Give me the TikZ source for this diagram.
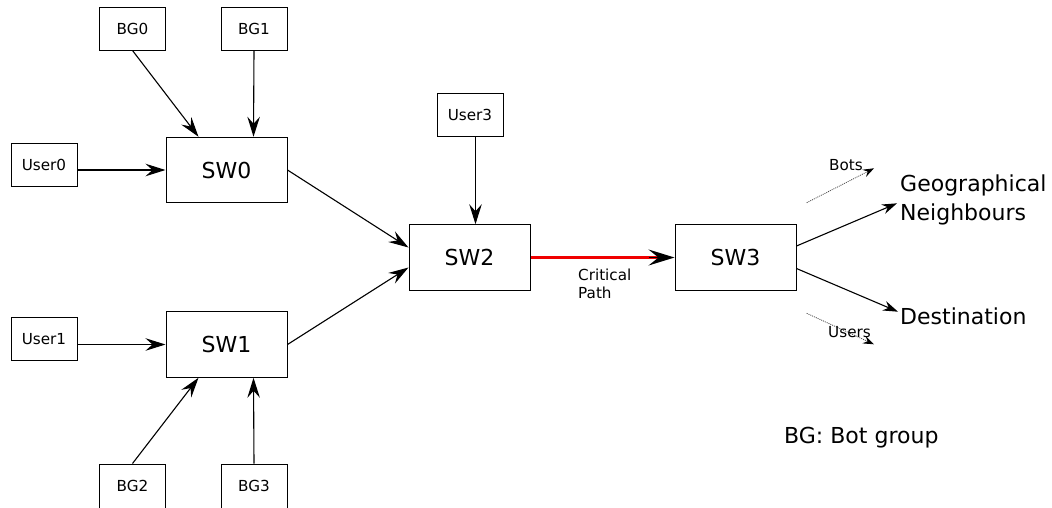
\documentclass[tikz,border=0pt]{standalone}
\usepackage{fontspec}
\setmainfont{DejaVu Sans}
\usetikzlibrary{arrows.meta}
\definecolor{critred}{RGB}{240,0,0}

\tikzset{
  smallbox/.style={draw, line width=1pt, minimum width=66pt, minimum height=43pt,
    inner sep=0pt, font=\fontsize{15.2}{17.5}\selectfont},
  switchbox/.style={draw, line width=1pt, minimum width=121pt, minimum height=65.5pt,
    inner sep=0pt, font=\fontsize{22}{29}\selectfont},
  bigarrow/.style={line width=1.1pt, -{Stealth[length=20pt, width=12.5pt, inset=7pt]}},
  outarrow/.style={line width=1.1pt, -{Stealth[length=15pt, width=10pt, inset=5pt]}},
  flowarrow/.style={line width=0.8pt, dash pattern=on 1pt off 1pt, black!70,
    -{Stealth[length=11pt, width=8pt, inset=4pt, color=black]}},
  critline/.style={line width=2.2pt, draw=critred},
  crithead/.style={line width=1.1pt, black, -{Stealth[length=26pt, width=16pt, inset=10pt]}},
  smalltext/.style={inner sep=0pt, font=\fontsize{15.2}{17.5}\selectfont, align=left},
  largetext/.style={inner sep=0pt, font=\fontsize{22}{29}\selectfont, align=left},
}

\begin{document}
\begin{tikzpicture}[x=1pt, y=-1pt]
  \clip (0,0) rectangle (1052,507);
  \useasboundingbox (0,0) rectangle (1052,507);

  % switches
  \node[switchbox] (SW0) at (226.5,170)   {SW0};
  \node[switchbox] (SW1) at (226.5,344.5) {SW1};
  \node[switchbox] (SW2) at (469.5,257.5) {SW2};
  \node[switchbox] (SW3) at (735.5,257.5) {SW3};

  % traffic sources
  \node[smallbox] (BG0)   at (132.5,28.5) {BG0};
  \node[smallbox] (BG1)   at (254,28.5)   {BG1};
  \node[smallbox] (User0) at (44,165)     {User0};
  \node[smallbox] (User1) at (44,339)     {User1};
  \node[smallbox, minimum height=44pt] (BG2) at (132.5,486) {BG2};
  \node[smallbox, minimum height=44pt] (BG3) at (254,486)   {BG3};
  \node[smallbox] (User3) at (470,115)    {User3};

  % inputs to SW0 and SW1
  \draw[bigarrow] (BG0.south) -- ([xshift=33pt]SW0.north west);
  \draw[bigarrow] (BG1.south) -- ([xshift=88pt]SW0.north west);
  \draw[bigarrow] (User0.east |- SW0.west) -- (SW0.west);
  \draw[bigarrow] (User1.east |- SW1.west) -- (SW1.west);
  \draw[bigarrow] (BG2.north) -- ([xshift=33pt]SW1.south west);
  \draw[bigarrow] (BG3.north) -- ([xshift=88pt]SW1.south west);

  % aggregation into SW2
  \draw[bigarrow] (SW0.east) -- ([yshift=10pt]SW2.west);
  \draw[bigarrow] (SW1.east) -- ([yshift=-10pt]SW2.west);
  \draw[bigarrow] ([xshift=5.5pt]User3.south) -- ([xshift=6pt]SW2.north);

  % critical link: red line with a black head
  \draw[critline] (SW2.east) -- ([xshift=-8pt]SW3.west);
  \draw[crithead] ([xshift=-26pt]SW3.west) -- (SW3.west);
  \node[smalltext, anchor=north west] (crit) at (578,269) {Critical\\Path};

  % outputs of SW3
  \node[largetext, anchor=north west] (geo) at (900,175) {Geographical\\Neighbours};
  \node[largetext, anchor=base west] (dest) at (900,324) {Destination};
  \coordinate (geoin)  at (897,203.3);
  \coordinate (destin) at (898,311.7);
  \draw[outarrow] ([yshift=11.5pt]SW3.east) -- (geoin);
  \draw[outarrow] ([yshift=-11pt]SW3.east) -- (destin);

  % traffic mix
  \coordinate (botsA)  at (806.7,202.7);
  \coordinate (botsB)  at (874,168.3);
  \coordinate (usersA) at (806.7,313.3);
  \coordinate (usersB) at (874,344.3);
  \draw[flowarrow] (botsA) -- (botsB);
  \draw[flowarrow] (usersA) -- (usersB);
  \node[smalltext, anchor=base west] (bots)  at (829,170.5) {Bots};
  \node[smalltext, anchor=base west] (users) at (828,337)   {Users};

  % legend
  \node[largetext, anchor=base west] (legend) at (784,443) {BG: Bot group};
\end{tikzpicture}
\end{document}
